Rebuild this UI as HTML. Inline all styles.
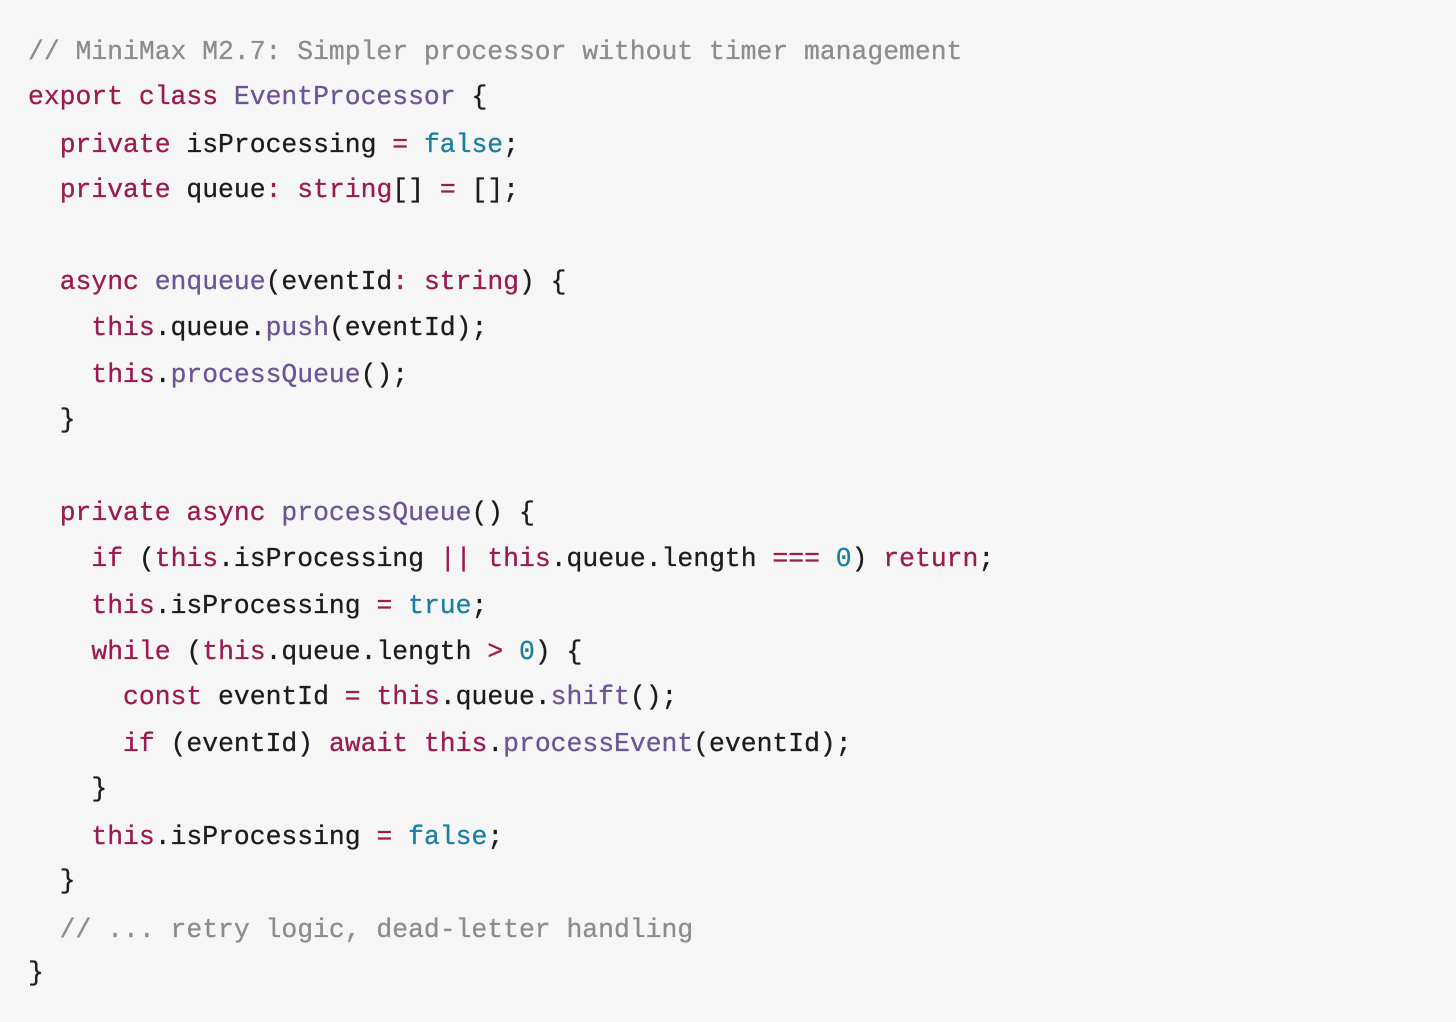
<!DOCTYPE html>
<html><head><meta charset="utf-8"><style>
html,body{margin:0;padding:0;}
body{width:1456px;height:1022px;background:#f6f6f6;position:relative;overflow:hidden;font-family:"Liberation Mono",monospace;font-size:26.4px;color:#1c1c1c;-webkit-text-stroke:0.3px currentColor;}
.l{position:absolute;left:28px;height:32px;line-height:32px;white-space:pre;}
.k{color:#9b1a52}.f{color:#6b5596}.t{color:#1a7fa0}.c{color:#8c8c8c}
</style></head><body>
<div class="l c" style="top:36px">// MiniMax M2.7: Simpler processor without timer management</div>
<div class="l" style="top:81px"><span class="k">export class</span> <span class="f">EventProcessor</span> {</div>
<div class="l" style="top:129px">  <span class="k">private</span> isProcessing <span class="k">=</span> <span class="t">false</span>;</div>
<div class="l" style="top:174px">  <span class="k">private</span> queue<span class="k">:</span> <span class="k">string</span>[] <span class="k">=</span> [];</div>
<div class="l" style="top:266px">  <span class="k">async</span> <span class="f">enqueue</span>(eventId<span class="k">:</span> <span class="k">string</span>) {</div>
<div class="l" style="top:312px">    <span class="k">this</span>.queue.<span class="f">push</span>(eventId);</div>
<div class="l" style="top:359px">    <span class="k">this</span>.<span class="f">processQueue</span>();</div>
<div class="l" style="top:404px">  }</div>
<div class="l" style="top:497px">  <span class="k">private async</span> <span class="f">processQueue</span>() {</div>
<div class="l" style="top:543px">    <span class="k">if</span> (<span class="k">this</span>.isProcessing <span class="k">||</span> <span class="k">this</span>.queue.length <span class="k">===</span> <span class="t">0</span>) <span class="k">return</span>;</div>
<div class="l" style="top:590px">    <span class="k">this</span>.isProcessing <span class="k">=</span> <span class="t">true</span>;</div>
<div class="l" style="top:636px">    <span class="k">while</span> (<span class="k">this</span>.queue.length <span class="k">&gt;</span> <span class="t">0</span>) {</div>
<div class="l" style="top:681px">      <span class="k">const</span> eventId <span class="k">=</span> <span class="k">this</span>.queue.<span class="f">shift</span>();</div>
<div class="l" style="top:728px">      <span class="k">if</span> (eventId) <span class="k">await</span> <span class="k">this</span>.<span class="f">processEvent</span>(eventId);</div>
<div class="l" style="top:773px">    }</div>
<div class="l" style="top:821px">    <span class="k">this</span>.isProcessing <span class="k">=</span> <span class="t">false</span>;</div>
<div class="l" style="top:865px">  }</div>
<div class="l c" style="top:914px">  // ... retry logic, dead-letter handling</div>
<div class="l" style="top:957px">}</div>
</body></html>
